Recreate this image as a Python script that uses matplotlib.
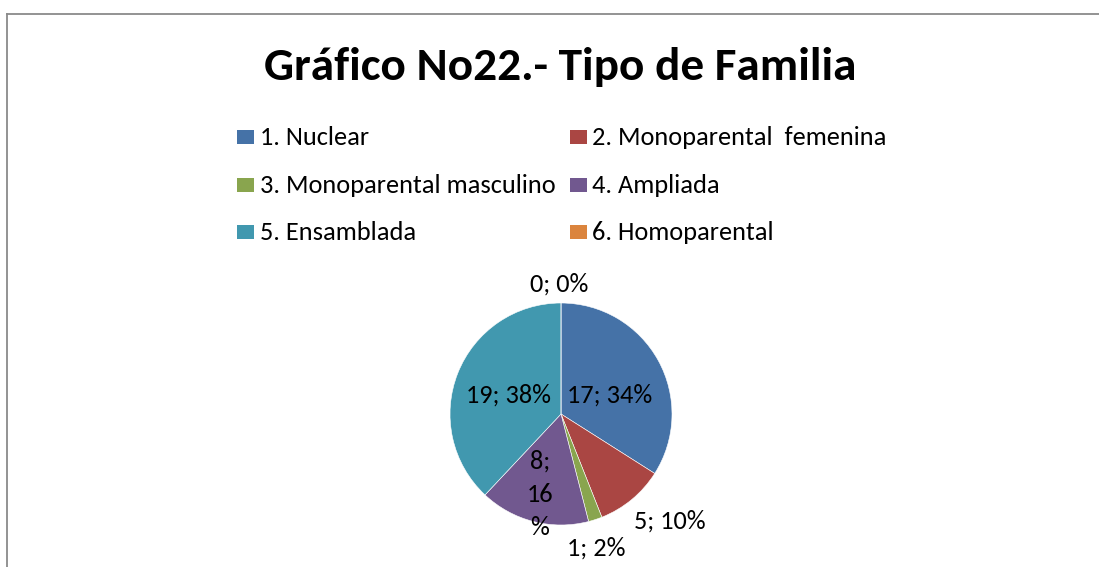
import matplotlib
matplotlib.use("Agg")
import matplotlib.pyplot as plt
from matplotlib.patches import Rectangle
from matplotlib.lines import Line2D
import logging
logging.getLogger("matplotlib.font_manager").setLevel(logging.ERROR)

plt.rcParams['font.family'] = ['Carlito', 'Lato', 'DejaVu Sans']

categories = ["1. Nuclear", "2. Monoparental  femenina", "3. Monoparental masculino",
              "4. Ampliada", "5. Ensamblada", "6. Homoparental"]
values = [17, 5, 1, 8, 19, 0]
percents = [34, 10, 2, 16, 38, 0]
colors = ["#4572A7", "#AA4643", "#89A54E", "#71588F", "#4198AF", "#DB843D"]
title = "Gráfico No22.- Tipo de Familia"

W, H = 1099, 567
fig = plt.figure(figsize=(W / 100, H / 100), dpi=100)
fig.patch.set_facecolor("white")

def fx(px):
    return px / W

def fy(py):
    return 1 - py / H

# chart frame (top and left edges visible)
fig.add_artist(Line2D([fx(7), 1.0], [fy(14), fy(14)], color="#8a8a8a", lw=1.3))
fig.add_artist(Line2D([fx(7), fx(7)], [fy(14), 0.0], color="#8a8a8a", lw=1.3))

# title
fig.text(fx(560), fy(80), title, ha="center", va="baseline",
         fontsize=34, fontweight="bold", color="black")

# legend (row-wise like Excel)
col_sq = [237, 570]
col_tx = [260, 592]
row_base = [145, 193, 240]
for i, (lab, c) in enumerate(zip(categories, colors)):
    r, col = divmod(i, 2)
    fig.add_artist(Rectangle((fx(col_sq[col]), fy(row_base[r] - 1)), fx(17), 14 / H,
                             facecolor=c, edgecolor="none", transform=fig.transFigure))
    fig.text(fx(col_tx[col]), fy(row_base[r]), lab, ha="left", va="baseline",
             fontsize=19, color="black")

# pie
cx, cy, R = 561, 414, 111
ax = fig.add_axes([fx(cx - R), fy(cy + R), 2 * R / W, 2 * R / H])
wedges, _ = ax.pie(values, colors=colors, startangle=90, counterclock=False,
                   radius=1.0, wedgeprops=dict(edgecolor="white", linewidth=0.4))
ax.set_xlim(-1, 1)
ax.set_ylim(-1, 1)
ax.set_aspect("auto")
ax.axis("off")

# data label anchor positions (in pie-radius units) and alignment
label_pos = [(0.441, 0.099, "baseline"), (0.982, -1.036, "baseline"),
             (0.315, -1.279, "baseline"), (-0.189, -0.725, "center"),
             (-0.473, 0.099, "baseline"), (-0.018, 1.099, "baseline")]
for i, (v, p) in enumerate(zip(values, percents)):
    txt = f"{v}; {p}%"
    if i == 3:
        txt = f"{v};\n{p}\n%"
    x, y, va = label_pos[i]
    ax.text(x, y, txt, ha="center", va=va, fontsize=19, color="black",
            linespacing=1.55, clip_on=False)

fig.savefig("out.png", dpi=100)
